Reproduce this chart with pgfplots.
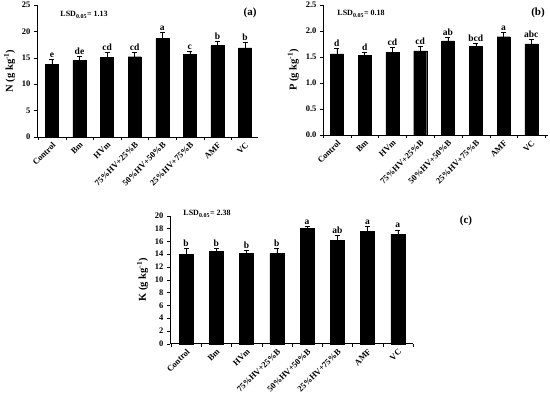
\documentclass[border=0pt]{standalone}
\usepackage{pgfplots}
\pgfplotsset{compat=1.18}
\usepackage{pgfplotstable}
\usepackage{fontspec}
\setmainfont{Liberation Serif}
\pgfplotstableread{
x y e l
0 13.8 0.9 e
1 14.5 0.7 de
2 15.1 0.9 cd
3 15.2 0.8 cd
4 18.7 1.2 a
5 15.7 0.6 c
6 17.3 0.9 b
7 16.9 1.0 b
}\tabA
\pgfplotstableread{
x y e l
0 1.56 0.10 d
1 1.53 0.07 d
2 1.59 0.10 cd
3 1.62 0.09 cd
4 1.81 0.07 ab
5 1.71 0.05 bcd
6 1.89 0.09 a
7 1.75 0.10 abc
}\tabB
\pgfplotstableread{
x y e l
0 14.0 0.9 b
1 14.4 0.5 b
2 14.1 0.5 b
3 14.1 0.8 b
4 18.0 0.3 a
5 16.1 0.8 ab
6 17.6 0.7 a
7 17.1 0.7 a
}\tabC
\pgfplotsset{
  panel/.style={
    scale only axis,
    axis x line*=bottom, axis y line*=left,
    axis line style={black, line width=0.6pt},
    ymin=0,
    xtick={0,...,7},
    xticklabels={Control,Bm,HVm,75\%HV+25\%B,50\%HV+50\%B,25\%HV+75\%B,AMF,VC},
    x tick label style={rotate=45, anchor=north east, font=\bfseries\fontsize{8.5}{9}\selectfont, inner sep=1pt},
    y tick label style={font=\bfseries\fontsize{8.5}{9}\selectfont},
    /pgf/number format/assume math mode=true,
    major x tick style={draw=none},
    minor xtick={-0.5,0.5,...,7.5},
    minor x tick style={black},
    minor tick length=3pt,
    major tick length=3pt,
    tick align=outside,
    ytick style={black},
    ylabel style={font=\bfseries\fontsize{10.5}{11}\selectfont},
    clip=false,
  },
  bars/.style={ybar, bar shift=0pt, fill=black, draw=black,
    error bars/y dir=plus, error bars/y explicit,
    error bars/error bar style={black, line width=0.5pt},
    error bars/error mark options={rotate=90, mark size=2.5pt, black, line width=0.5pt}},
  lets/.style={only marks, mark=none,
    nodes near coords, point meta=explicit symbolic,
    every node near coord/.append style={font=\bfseries\fontsize{9.5}{10}\selectfont, anchor=south, inner sep=1pt, yshift=0.5pt}},
}
\begin{document}
\begin{tikzpicture}
\useasboundingbox (0,0) rectangle (550pt,397pt);
% panel a
\begin{axis}[panel, at={(37pt,260pt)}, anchor=south west,
  width=221pt, height=132pt, xmin=-0.54, xmax=7.47, ymax=25,
  ytick={0,5,...,25}, ylabel={N (g kg\textsuperscript{-1})}]
\addplot[bars, bar width=13pt] table[x=x, y=y, y error=e] {\tabA};
\addplot[lets] table[x=x, y expr=\thisrow{y}+\thisrow{e}, meta=l] {\tabA};
\end{axis}
% panel b
\begin{axis}[panel, at={(323pt,262pt)}, anchor=south west,
  width=225pt, height=130pt, xmin=-0.5, xmax=7.6, ymax=2.5,
  ytick={0,0.5,...,2.5},
  yticklabel style={/pgf/number format/.cd, fixed, fixed zerofill, precision=1},
  ylabel={P (g kg\textsuperscript{-1})}]
\addplot[bars, bar width=13pt] table[x=x, y=y, y error=e] {\tabB};
\addplot[lets] table[x=x, y expr=\thisrow{y}+\thisrow{e}, meta=l] {\tabB};
\end{axis}
% panel c
\begin{axis}[panel, at={(170pt,53.3pt)}, anchor=south west,
  width=243pt, height=128pt, xmin=-0.53, xmax=7.5, ymax=20,
  ytick={0,2,...,20}, ylabel={K (g kg\textsuperscript{-1})}]
\addplot[bars, bar width=14pt] table[x=x, y=y, y error=e] {\tabC};
\addplot[lets] table[x=x, y expr=\thisrow{y}+\thisrow{e}, meta=l] {\tabC};
\end{axis}
\node[font=\bfseries\fontsize{8}{9}\selectfont] at (84pt,382pt) {LSD\textsubscript{0.05}= 1.13};
\node[font=\bfseries\fontsize{8}{9}\selectfont] at (361pt,383pt) {LSD\textsubscript{0.05}= 0.18};
\node[font=\bfseries\fontsize{8}{9}\selectfont] at (207pt,183pt) {LSD\textsubscript{0.05}= 2.38};
\node[font=\bfseries\fontsize{11}{12}\selectfont] at (250pt,384pt) {(a)};
\node[font=\bfseries\fontsize{11}{12}\selectfont] at (538pt,384pt) {(b)};
\node[font=\bfseries\fontsize{11}{12}\selectfont] at (466pt,176pt) {(c)};
\end{tikzpicture}
\end{document}
